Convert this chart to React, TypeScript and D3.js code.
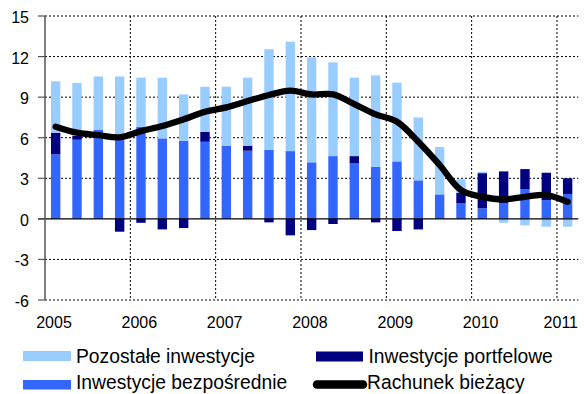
import React from "react";
import * as d3 from "d3";

const quarters = [
  "2005Q1","2005Q2","2005Q3","2005Q4",
  "2006Q1","2006Q2","2006Q3","2006Q4",
  "2007Q1","2007Q2","2007Q3","2007Q4",
  "2008Q1","2008Q2","2008Q3","2008Q4",
  "2009Q1","2009Q2","2009Q3","2009Q4",
  "2010Q1","2010Q2","2010Q3","2010Q4",
  "2011Q1",
];
const bezposrednie = [4.77, 5.85, 6.57, 6.1, 6.81, 5.95, 5.78, 5.7, 5.41, 5.04, 5.11, 5.01, 4.18, 4.64, 4.1, 3.85, 4.25, 2.85, 1.81, 1.15, 0.78, 1.15, 2.2, 1.39, 1.83];
const portfelowe = [1.6, 0.3, 0, -0.95, -0.29, -0.78, -0.68, 0.74, 0, 0.37, -0.26, -1.22, -0.83, -0.38, 0.54, -0.26, -0.9, -0.78, 0, 0.78, 2.6, 2.36, 1.48, 2.02, 1.17];
const pozostale = [3.8, 3.9, 3.96, 4.43, 3.63, 4.49, 3.42, 3.33, 4.36, 5.03, 7.43, 8.09, 7.76, 6.93, 5.8, 6.76, 5.82, 4.65, 3.5, 1.0, 0.1, -0.29, -0.48, -0.58, -0.58];
const rachunek = [6.81, 6.37, 6.19, 6.03, 6.49, 6.86, 7.36, 7.92, 8.24, 8.71, 9.16, 9.48, 9.2, 9.2, 8.49, 7.73, 7.18, 5.7, 3.98, 2.13, 1.63, 1.44, 1.63, 1.76, 1.26];
const yTicks = [-6, -3, 0, 3, 6, 9, 12, 15];
const years = ["2005", "2006", "2007", "2008", "2009", "2010", "2011"];

const keys = ["bez", "port", "poz"];
const colors: Record<string, string> = { bez: "#3366FF", port: "#000080", poz: "#99CCFF" };

export default function App() {
  const W = 584, H = 394;
  const left = 45, right = 578.3, top = 16, bottom = 300;
  const x = d3.scaleBand<string>().domain(quarters).range([left, right]).paddingInner(0.56).paddingOuter(0.28);
  const y = d3.scaleLinear().domain([-6, 15]).range([bottom, top]);
  const step = x.step();
  const gap = (step - x.bandwidth()) / 2;

  const rows = quarters.map((q, i) => ({ q, bez: bezposrednie[i], port: portfelowe[i], poz: pozostale[i] }));
  const series = d3.stack<any>().keys(keys).offset(d3.stackOffsetDiverging)(rows);

  const line = d3.line<number>()
    .x((_, i) => (x(quarters[i]) as number) + x.bandwidth() / 2)
    .y((d) => y(d))
    .curve(d3.curveCatmullRom.alpha(0.5));

  const yearX = (yr: string) => (x(yr + "Q1") as number) - gap;
  const font = "'Liberation Sans', Arial, sans-serif";
  const lf = 19.3;

  return (
    <svg width={W} height={H} style={{ position: "absolute", left: 0, top: 0, background: "#fff" }} fontFamily={font}>
      {yTicks.filter((t) => t !== 0).map((t) => (
        <line key={"h" + t} x1={left} x2={right} y1={y(t)} y2={y(t)} stroke="#000" strokeWidth={1} strokeDasharray="2,2" />
      ))}
      {years.slice(1).map((yr) => (
        <line key={"v" + yr} x1={yearX(yr)} x2={yearX(yr)} y1={top} y2={bottom} stroke="#000" strokeWidth={1} strokeDasharray="2,2" />
      ))}
      {series.map((s) => (
        <g key={s.key} fill={colors[s.key]}>
          {s.map((d, i) => {
            const y0 = y(d[0]), y1 = y(d[1]);
            const h = Math.abs(y0 - y1);
            if (h < 0.01) return null;
            return <rect key={i} x={x(quarters[i])} width={x.bandwidth()} y={Math.min(y0, y1)} height={h} />;
          })}
        </g>
      ))}
      <line x1={left - 7} x2={right} y1={y(0)} y2={y(0)} stroke="#000" strokeWidth={1.2} />
      <line x1={left} x2={left} y1={top} y2={bottom} stroke="#555" strokeWidth={1.5} />
      {yTicks.map((t) => (
        <g key={"t" + t}>
          <line x1={left - 7} x2={left} y1={y(t)} y2={y(t)} stroke="#555" strokeWidth={1.2} />
          <text x={29} y={y(t) + 7} textAnchor="end" fontSize={16} fill="#000">{t}</text>
        </g>
      ))}
      <path d={line(rachunek) as string} fill="none" stroke="#000" strokeWidth={6.3} strokeLinecap="round" strokeLinejoin="round" />
      {years.map((yr, i) => {
        const isLast = i === years.length - 1;
        return (
          <text key={"x" + yr} x={isLast ? 578 : yearX(yr) + 9} y={328} textAnchor={isLast ? "end" : "middle"} fontSize={16} fill="#000">{yr}</text>
        );
      })}
      <rect x={23} y={351} width={48} height={10} fill={colors.poz} />
      <text x={76} y={362.5} fontSize={lf} fill="#000">Pozostałe inwestycje</text>
      <rect x={316} y={351.5} width={47} height={10} fill={colors.port} />
      <text x={368.5} y={362.5} fontSize={lf} fill="#000">Inwestycje portfelowe</text>
      <rect x={23} y={380} width={48} height={9.5} fill={colors.bez} />
      <text x={76} y={388.5} fontSize={lf} fill="#000">Inwestycje bezpośrednie</text>
      <line x1={317} x2={363} y1={384.5} y2={384.5} stroke="#000" strokeWidth={8.5} strokeLinecap="round" />
      <text x={367} y={388.5} fontSize={lf} fill="#000">Rachunek bieżący</text>
    </svg>
  );
}
